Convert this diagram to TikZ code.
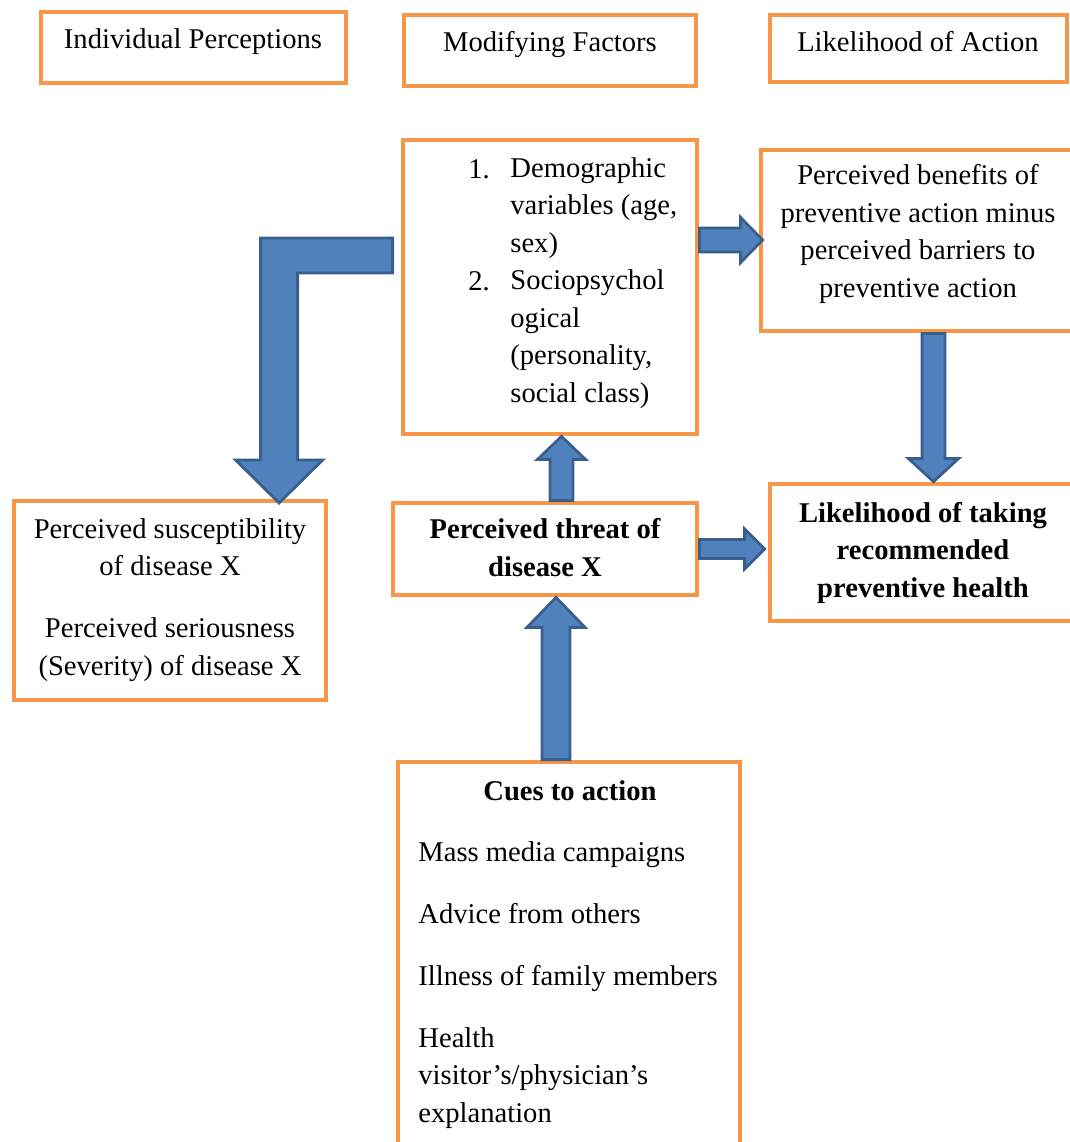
\documentclass[tikz,border=0pt]{standalone}
\usepackage{fontspec}
\setmainfont{Liberation Serif}
\usetikzlibrary{calc,fit}

\definecolor{boxorange}{HTML}{F79646}
\definecolor{arrowfill}{HTML}{4F81BD}
\definecolor{arrowedge}{HTML}{3A5F8C}

\tikzset{
  box/.style={draw=boxorange, line width=2.4pt, inner sep=0pt, fill=white},
  txt/.style={inner sep=0pt, align=center, font=\fontsize{14.3}{18.75}\selectfont},
  btxt/.style={txt, font=\fontsize{14.3}{18.75}\selectfont\bfseries},
  barrow/.style={fill=arrowfill, draw=arrowedge, line width=1.4pt, line join=miter},
}

% straight block arrow: #1 start, #2 tip, #3 half shaft width,
% #4 half head width, #5 head length
\newcommand{\blockarrow}[5]{%
  \path (#2) coordinate (ba-t) ($(#2)!#5!(#1)$) coordinate (ba-b);
  \draw[barrow] ($(#1)!#3!90:(#2)$) -- ($(ba-b)!#3!90:(ba-t)$)
    -- ($(ba-b)!#4!90:(ba-t)$) -- (ba-t) -- ($(ba-b)!#4!-90:(ba-t)$)
    -- ($(ba-b)!#3!-90:(ba-t)$) -- ($(#1)!#3!-90:(#2)$) -- cycle;}

\begin{document}
\begin{tikzpicture}[x=0.5pt,y=-0.5pt]
\useasboundingbox (0,0) rectangle (1070,1142);
\clip (0,0) rectangle (1070,1142);

% column headings
\node[box, fit={(41,12) (346,83)}] (ip) {};
\node[txt, anchor=base] (ipt) at (193,48) {Individual Perceptions};
\node[box, fit={(404,15) (696,86)}] (mf) {};
\node[txt, anchor=base] (mft) at (550,51) {Modifying Factors};
\node[box, fit={(770,15) (1067,82)}] (la) {};
\node[txt, anchor=base] (lat) at (918,51) {Likelihood of Action};

% modifying factors (multi-line texts are placed by their last baseline)
\node[box, fit={(403,140) (697,434)}] (mod) {};
\node[txt, anchor=base west] (n1) at (468,178) {1.};
\node[txt, align=left, anchor=base west] (m1) at (510,252)
  {Demographic\\variables (age,\\sex)};
\node[txt, anchor=base west] (n2) at (468,290) {2.};
\node[txt, align=left, anchor=base west] (m2) at (510,402)
  {Sociopsychol\\ogical\\(personality,\\social class)};

% benefits minus barriers
\node[box, fit={(761,150) (1078,331)}] (ben) {};
\node[txt, anchor=base] (bent) at (918,297)
  {Perceived benefits of\\preventive action minus\\perceived barriers to\\preventive action};

% individual perceptions
\node[box, fit={(14,501) (326,700)}] (sus) {};
\node[txt, anchor=base] (sust) at (170,675)
  {Perceived susceptibility\\of disease X\\[12.25pt]Perceived seriousness\\(Severity) of disease X};

% perceived threat
\node[box, fit={(393,503) (697,595)}] (thr) {};
\node[btxt, anchor=base] (thrt) at (545,576) {Perceived threat of\\disease X};

% likelihood of taking action
\node[box, fit={(770,484) (1078,621)}] (lik) {};
\node[btxt, anchor=base] (likt) at (923,597)
  {Likelihood of taking\\recommended\\preventive health};

% cues to action
\node[box, fit={(398,762) (740,1160)}] (cue) {};
\node[btxt, anchor=base] (cuet) at (570,800) {Cues to action};
\node[txt, align=left, anchor=base west] (cuel) at (418,1122)
  {Mass media campaigns\\[12.25pt]Advice from others\\[12.25pt]Illness of family members\\[12.25pt]Health\\visitor’s/physician’s\\explanation};

% arrow end points
\coordinate (a1s) at ($(mod.east)+(0,-47)$);
\coordinate (a1e) at ($(a1s -| ben.west)+(4,0)$);
\coordinate (a2s) at (thr.east);
\coordinate (a2e) at ($(thr.east -| lik.west)+(-3,0)$);
\coordinate (a3s) at (561.5,0 |- thr.north);
\coordinate (a3e) at (561.5,0 |- mod.south);
\coordinate (a4s) at (933.5,0 |- ben.south);
\coordinate (a4e) at (933.5,0 |- lik.north);
\coordinate (a5s) at (556,0 |- cue.north);
\coordinate (a5e) at (556,0 |- thr.south);
\coordinate (lstart) at ($(mod.west)+(-8,-31.5)$);

\blockarrow{a1s}{a1e}{6pt}{11.25pt}{11pt}
\blockarrow{a2s}{a2e}{4.75pt}{10pt}{10pt}
\blockarrow{a3s}{a3e}{5.75pt}{12pt}{11.5pt}
\blockarrow{a4s}{a4e}{5.75pt}{12.5pt}{11.5pt}
\blockarrow{a5s}{a5e}{7pt}{14.5pt}{15pt}

% bent arrow from modifying factors down to individual perceptions
\draw[barrow] (lstart) ++(0,-17.5) -- ++(-132,0) -- ++(0,222) -- ++(-25,0)
  -- ++(43.5,43) -- ++(43.5,-43) -- ++(-25,0) -- ++(0,-187) -- ++(95,0) -- cycle;
\end{tikzpicture}
\end{document}
